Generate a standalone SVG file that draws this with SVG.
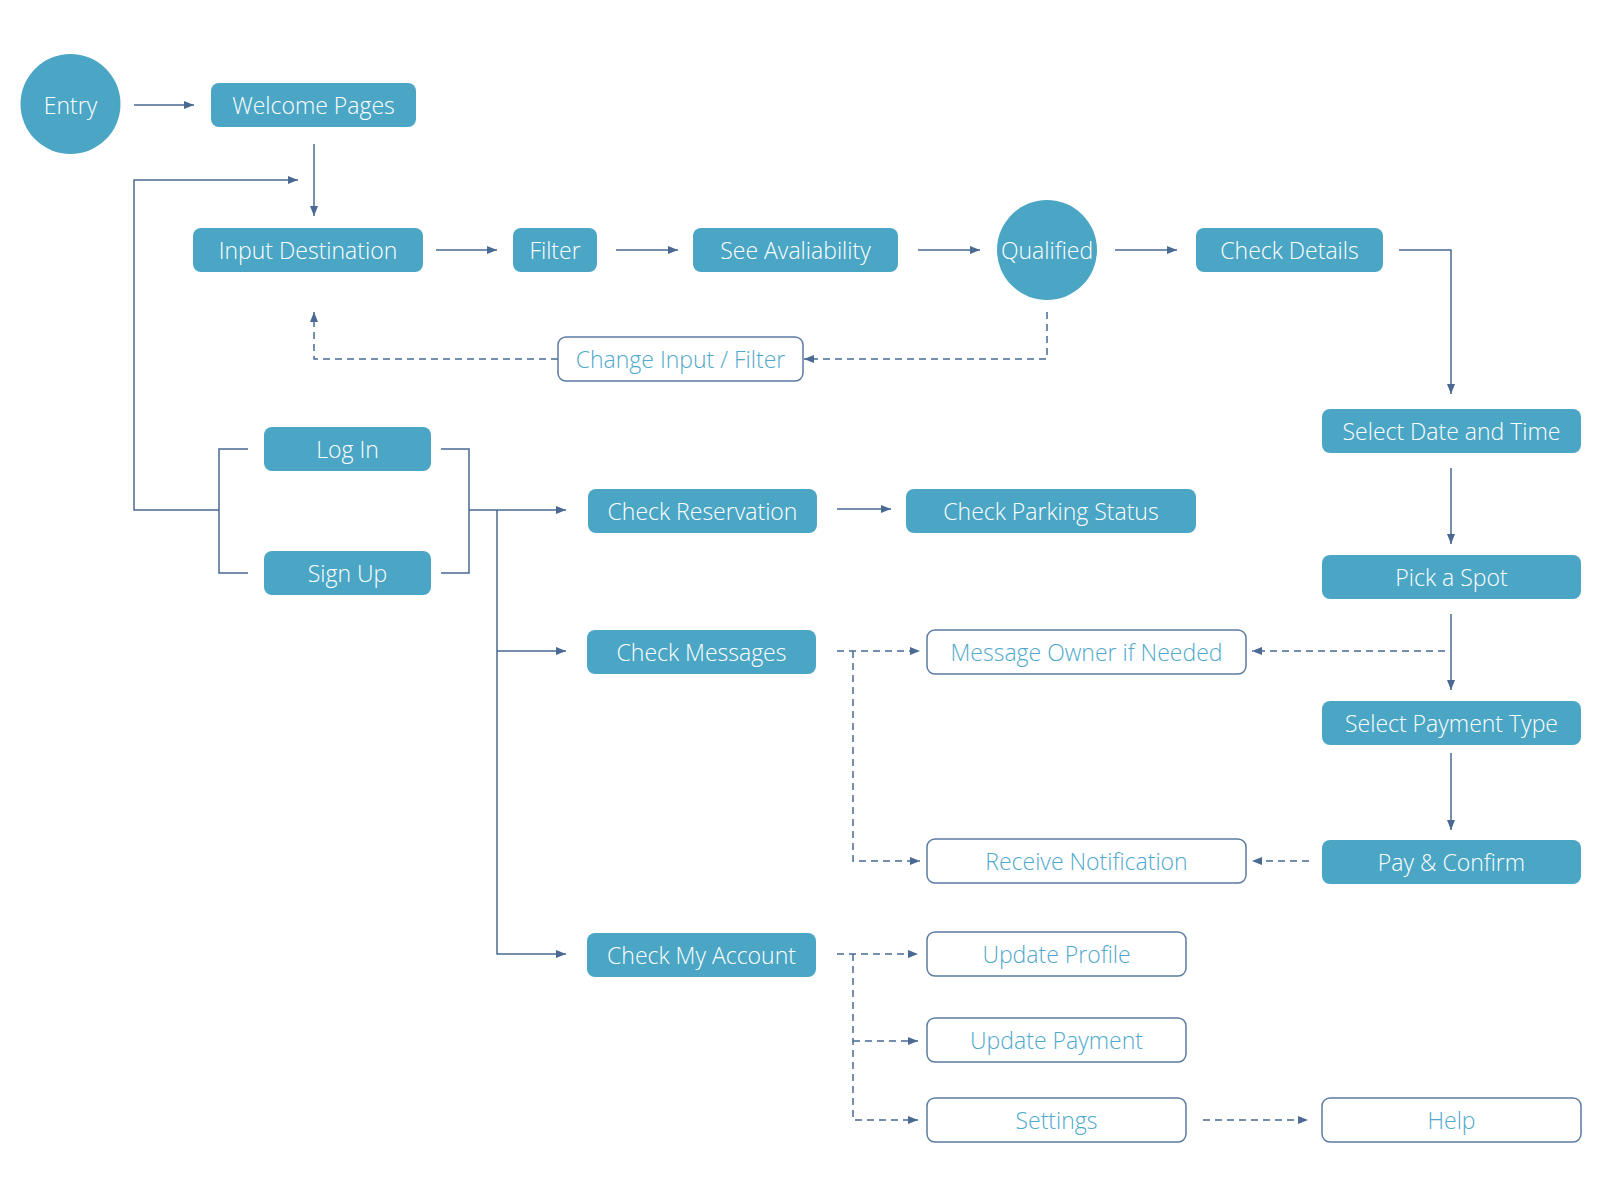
<svg xmlns="http://www.w3.org/2000/svg" width="1600" height="1200" viewBox="0 0 1600 1200">
<defs>
<marker id="arr" viewBox="0 0 10 8" refX="10" refY="4" markerWidth="10" markerHeight="8" markerUnits="userSpaceOnUse" orient="auto">
<path d="M0,0 L10,4 L0,8 z" fill="#4a6a93"/>
</marker>
<style>
.f rect, .f circle { fill: #4ba6c5; }
.o rect { fill: #ffffff; stroke: #5b7ba3; stroke-width: 1.5; }
text { font-family: "Open Sans", "Liberation Sans", sans-serif; font-weight: 300; font-size: 23px; text-anchor: middle; dominant-baseline: central; }
.f text { fill: #ffffff; }
.o text { fill: #4fa9cc; }
.ln { fill: none; stroke: #4a6a93; stroke-width: 1.5; }
.dl { fill: none; stroke: #4a6a93; stroke-width: 1.5; stroke-dasharray: 7 5; }
.a { marker-end: url(#arr); }
</style>
</defs>
<rect width="1600" height="1200" fill="#ffffff"/>

<g id="connectors">
<path class="ln a" d="M134,105 H194"/>
<path class="ln a" d="M314,144 V216"/>
<path class="ln a" d="M436,250 H497"/>
<path class="ln a" d="M616,250 H678"/>
<path class="ln a" d="M918,250 H980"/>
<path class="ln a" d="M1115,250 H1177"/>
<path class="ln a" d="M1399,250 H1451 V394"/>
<path class="ln a" d="M1451,468 V544"/>
<path class="ln a" d="M1451,614 V690"/>
<path class="ln a" d="M1451,753 V830"/>
<path class="dl a" d="M1445,651 H1252"/>
<path class="dl a" d="M1309,861 H1252"/>
<path class="dl a" d="M1047,312 V359 H804"/>
<path class="dl a" d="M558,359 H314 V312"/>
<path class="ln a" d="M219,510 H134 V180 H298"/>
<path class="ln" d="M248,449 H219 V573 H248"/>
<path class="ln" d="M441,449 H469 V573 H441"/>
<path class="ln a" d="M469,510 H566"/>
<path class="ln a" d="M497,510 V954 H566"/>
<path class="ln a" d="M497,651 H566"/>
<path class="ln a" d="M837,509 H891"/>
<path class="dl a" d="M837,651 H920"/>
<path class="dl a" d="M853,651 V861 H920"/>
<path class="dl a" d="M837,954 H918"/>
<path class="dl a" d="M853,954 V1120 H918"/>
<path class="dl a" d="M853,1041 H918"/>
<path class="dl a" d="M1203,1120 H1308"/>
</g>

<g id="entry" class="f"><circle cx="70.5" cy="104" r="50"/><text x="70.5" y="105">Entry</text></g>
<g id="welcome" class="f"><rect x="211" y="83" width="205" height="44" rx="8"/><text x="313.5" y="105">Welcome Pages</text></g>
<g id="input" class="f"><rect x="193" y="228" width="230" height="44" rx="8"/><text x="308" y="250">Input Destination</text></g>
<g id="filter" class="f"><rect x="513" y="228" width="84" height="44" rx="8"/><text x="555" y="250">Filter</text></g>
<g id="see" class="f"><rect x="693" y="228" width="205" height="44" rx="8"/><text x="795.5" y="250">See Avaliability</text></g>
<g id="qualified" class="f"><circle cx="1047" cy="250" r="50"/><text x="1047" y="250">Qualified</text></g>
<g id="details" class="f"><rect x="1196" y="228" width="187" height="44" rx="8"/><text x="1289.5" y="250">Check Details</text></g>
<g id="date" class="f"><rect x="1322" y="409" width="259" height="44" rx="8"/><text x="1451.5" y="431">Select Date and Time</text></g>
<g id="spot" class="f"><rect x="1322" y="555" width="259" height="44" rx="8"/><text x="1451.5" y="577">Pick a Spot</text></g>
<g id="paytype" class="f"><rect x="1322" y="701" width="259" height="44" rx="8"/><text x="1451.5" y="723">Select Payment Type</text></g>
<g id="pay" class="f"><rect x="1322" y="840" width="259" height="44" rx="8"/><text x="1451.5" y="862">Pay &amp; Confirm</text></g>
<g id="login" class="f"><rect x="264" y="427" width="167" height="44" rx="8"/><text x="347.5" y="449">Log In</text></g>
<g id="signup" class="f"><rect x="264" y="551" width="167" height="44" rx="8"/><text x="347.5" y="573">Sign Up</text></g>
<g id="checkres" class="f"><rect x="588" y="489" width="229" height="44" rx="8"/><text x="702.5" y="511">Check Reservation</text></g>
<g id="parking" class="f"><rect x="906" y="489" width="290" height="44" rx="8"/><text x="1051" y="511">Check Parking Status</text></g>
<g id="messages" class="f"><rect x="587" y="630" width="229" height="44" rx="8"/><text x="701.5" y="652">Check Messages</text></g>
<g id="account" class="f"><rect x="587" y="933" width="229" height="44" rx="8"/><text x="701.5" y="955">Check My Account</text></g>

<g id="change" class="o"><rect x="558" y="337" width="245" height="44" rx="8"/><text x="680.5" y="359">Change Input / Filter</text></g>
<g id="msgowner" class="o"><rect x="927" y="630" width="319" height="44" rx="8"/><text x="1086.5" y="652">Message Owner if Needed</text></g>
<g id="receive" class="o"><rect x="927" y="839" width="319" height="44" rx="8"/><text x="1086.5" y="861">Receive Notification</text></g>
<g id="profile" class="o"><rect x="927" y="932" width="259" height="44" rx="8"/><text x="1056.5" y="954">Update Profile</text></g>
<g id="payment" class="o"><rect x="927" y="1018" width="259" height="44" rx="8"/><text x="1056.5" y="1040">Update Payment</text></g>
<g id="settings" class="o"><rect x="927" y="1098" width="259" height="44" rx="8"/><text x="1056.5" y="1120">Settings</text></g>
<g id="help" class="o"><rect x="1322" y="1098" width="259" height="44" rx="8"/><text x="1451.5" y="1120">Help</text></g>
</svg>
